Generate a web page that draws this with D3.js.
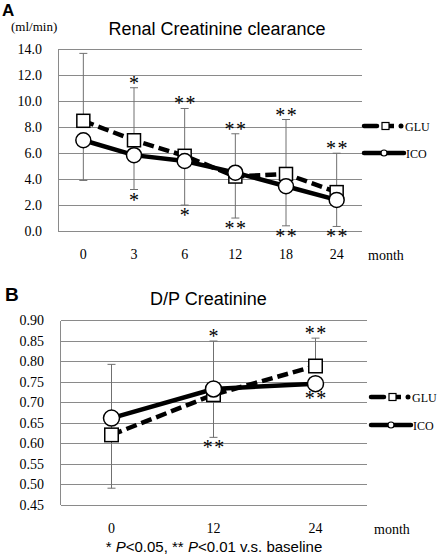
<!DOCTYPE html>
<html><head><meta charset="utf-8">
<script src="https://cdn.jsdelivr.net/npm/d3@7/dist/d3.min.js"></script>
<style>body{margin:0;background:#fff}svg{display:block}</style>
</head><body>
<svg id="c" width="437" height="556"></svg>
<script>
// ---- Panel A data ----
const monthsA = ["0","3","6","12","18","24"];
const gluA = [8.5, 7.0, 5.8, 4.2, 4.4, 3.0];
const icoA = [7.0, 5.85, 5.4, 4.5, 3.45, 2.4];
const gluAUpper = [13.7, 11.05, 9.45, 7.5, 8.6, 6.0];
const icoALower = [3.9, 3.2, 2.0, 1.0, 0.4, 0.35];
const gluASig = ["", "*", "**", "**", "**", "**"];
const icoASig = ["", "*", "*", "**", "**", "**"];
const yTicksA = [0, 2, 4, 6, 8, 10, 12, 14];
// ---- Panel B data ----
const monthsB = ["0","12","24"];
const gluB = [0.621, 0.719, 0.789];
const icoB = [0.662, 0.733, 0.746];
const gluBUpper = [0.793, 0.85, 0.857];
const icoBLower = [0.491, 0.615, 0.735];
const gluBSig = ["", "*", "**"];
const icoBSig = ["", "**", "**"];
const yTicksB = [0.45, 0.50, 0.55, 0.60, 0.65, 0.70, 0.75, 0.80, 0.85, 0.90];

const svg = d3.select("#c");
const SERIF = "'Liberation Serif', 'DejaVu Serif', serif";
const SANS = "Arial, 'Liberation Sans', sans-serif";
const GRID = "#8a8a8a", EBAR = "#707070";

function starText(g, x, yc, s) {
  g.append("text").attr("x", x + 0.75).attr("y", yc + 9.5)
    .attr("text-anchor", "middle").attr("fill", "#000")
    .attr("font-family", SERIF).attr("font-size", 20).attr("letter-spacing", 1.5)
    .text(s);
}

function panel(o) {
  const g = svg.append("g");
  const x = d3.scaleBand().domain(o.cats).range([o.left, o.right]);
  const cx = c => x(c) + x.bandwidth() / 2;
  const y = d3.scaleLinear().domain(o.domain).range([o.bottom, o.top]);

  // grid
  g.append("g").selectAll("line").data(o.ticks).join("line")
    .attr("x1", o.left).attr("x2", o.right)
    .attr("y1", d => y(d)).attr("y2", d => y(d))
    .attr("stroke", GRID).attr("stroke-width", 1).attr("shape-rendering", "crispEdges");
  g.append("line").attr("x1", o.left).attr("x2", o.left)
    .attr("y1", y(o.domain[0])).attr("y2", y(o.domain[1]))
    .attr("stroke", GRID).attr("shape-rendering", "crispEdges");

  // y axis labels via d3 axis
  const ya = g.append("g").attr("transform", `translate(${o.left},0)`)
    .call(d3.axisLeft(y).tickValues(o.ticks).tickFormat(d3.format(o.fmt)).tickSize(0).tickPadding(o.left - o.ylabX));
  ya.select(".domain").remove();
  ya.selectAll("text").attr("font-family", SERIF).attr("font-size", 14).attr("fill", "#000");

  // x axis labels
  const xa = g.append("g").attr("transform", `translate(0,${o.bottom})`)
    .call(d3.axisBottom(x).tickSize(0).tickPadding(o.xlabPad));
  xa.select(".domain").remove();
  xa.selectAll("text").attr("font-family", SERIF).attr("font-size", 14).attr("fill", "#000");
  g.append("text").attr("x", o.monthX).attr("y", o.bottom + o.xlabPad + 11)
    .attr("font-family", SERIF).attr("font-size", 14).text("month");

  // error bars
  const eb = g.append("g").attr("stroke", EBAR).attr("stroke-width", 1);
  o.cats.forEach((c, i) => {
    const xc = cx(c);
    eb.append("line").attr("x1", xc).attr("x2", xc).attr("y1", y(o.glu[i])).attr("y2", y(o.up[i]));
    eb.append("line").attr("x1", xc - 4).attr("x2", xc + 4).attr("y1", y(o.up[i])).attr("y2", y(o.up[i]));
    eb.append("line").attr("x1", xc).attr("x2", xc).attr("y1", y(o.ico[i])).attr("y2", y(o.lo[i]));
    eb.append("line").attr("x1", xc - 4).attr("x2", xc + 4).attr("y1", y(o.lo[i])).attr("y2", y(o.lo[i]));
  });

  // significance stars
  o.cats.forEach((c, i) => {
    const xc = cx(c);
    if (o.gsig[i]) starText(g, xc, y(o.up[i]) - 7.5, o.gsig[i]);
    if (o.isig[i]) starText(g, xc, y(o.lo[i]) + 7.5, o.isig[i]);
  });

  // lines
  const line = d3.line().x((d, i) => cx(o.cats[i])).y(d => y(d));
  g.append("path").datum(o.glu).attr("d", line).attr("fill", "none")
    .attr("stroke", "#000").attr("stroke-width", 4.5).attr("stroke-dasharray", "11,5");
  g.append("path").datum(o.ico).attr("d", line).attr("fill", "none")
    .attr("stroke", "#000").attr("stroke-width", 4.5);

  // markers
  const s = o.sq;
  g.append("g").selectAll("rect").data(o.glu).join("rect")
    .attr("x", (d, i) => cx(o.cats[i]) - s / 2).attr("y", d => y(d) - s / 2)
    .attr("width", s).attr("height", s).attr("fill", "#fff").attr("stroke", "#000").attr("stroke-width", 1.5);
  g.append("g").selectAll("circle").data(o.ico).join("circle")
    .attr("cx", (d, i) => cx(o.cats[i])).attr("cy", d => y(d)).attr("r", o.r)
    .attr("fill", "#fff").attr("stroke", "#000").attr("stroke-width", 1.5);

  // legend
  const L = o.leg;
  const lg = g.append("g");
  lg.append("line").attr("x1", L.x).attr("x2", L.x + 13).attr("y1", L.y1).attr("y2", L.y1)
    .attr("stroke", "#000").attr("stroke-width", 4.5).attr("stroke-linecap", "round");
  lg.append("line").attr("x1", L.x + 22).attr("x2", L.x + 30).attr("y1", L.y1).attr("y2", L.y1)
    .attr("stroke", "#000").attr("stroke-width", 4.5);
  lg.append("rect").attr("x", L.x + 18).attr("y", L.y1 - 3.5).attr("width", 7).attr("height", 7)
    .attr("fill", "#fff").attr("stroke", "#000").attr("stroke-width", 1.2);
  lg.append("circle").attr("cx", L.x + 37).attr("cy", L.y1).attr("r", 2.5).attr("fill", "#000");
  lg.append("text").attr("x", L.x + 41).attr("y", L.y1 + 4.5).attr("font-family", SERIF).attr("font-size", 12).text("GLU");
  lg.append("line").attr("x1", L.x).attr("x2", L.x + 40).attr("y1", L.y2).attr("y2", L.y2)
    .attr("stroke", "#000").attr("stroke-width", 4.5).attr("stroke-linecap", "round");
  lg.append("circle").attr("cx", L.x + 20).attr("cy", L.y2).attr("r", 3).attr("fill", "#fff").attr("stroke", "#000").attr("stroke-width", 1.2);
  lg.append("text").attr("x", L.x + 42).attr("y", L.y2 + 4.5).attr("font-family", SERIF).attr("font-size", 12).text("ICO");
}

// Panel A
svg.append("text").attr("x", 2).attr("y", 16).attr("font-family", SANS).attr("font-weight", "bold").attr("font-size", 17).text("A");
svg.append("text").attr("x", 11).attr("y", 31).attr("font-family", SERIF).attr("font-size", 13).text("(ml/min)");
svg.append("text").attr("x", 217).attr("y", 35).attr("text-anchor", "middle").attr("font-family", SANS).attr("font-size", 18).text("Renal Creatinine clearance");
panel({cats: monthsA, domain: [0, 14], ticks: yTicksA, fmt: ".1f",
  left: 58, right: 362, top: 49.5, bottom: 231, ylabX: 42, xlabPad: 18, monthX: 368,
  glu: gluA, ico: icoA, up: gluAUpper, lo: icoALower, gsig: gluASig, isig: icoASig,
  sq: 13, r: 7.5, leg: {x: 364, y1: 126, y2: 153}});

// Panel B
svg.append("text").attr("x", 5).attr("y", 301).attr("font-family", SANS).attr("font-weight", "bold").attr("font-size", 19).text("B");
svg.append("text").attr("x", 150).attr("y", 305).attr("font-family", SANS).attr("font-size", 18).text("D/P Creatinine");
panel({cats: monthsB, domain: [0.45, 0.90], ticks: yTicksB, fmt: ".2f",
  left: 60.5, right: 366.5, top: 320.5, bottom: 505, ylabX: 44, xlabPad: 18, monthX: 374,
  glu: gluB, ico: icoB, up: gluBUpper, lo: icoBLower, gsig: gluBSig, isig: icoBSig,
  sq: 13.5, r: 8, leg: {x: 371, y1: 397, y2: 425}});

// footnote
const fn = svg.append("text").attr("x", 214).attr("y", 552).attr("text-anchor", "middle")
  .attr("font-family", SANS).attr("font-size", 15);
fn.append("tspan").text("* ");
fn.append("tspan").attr("font-style", "italic").text("P");
fn.append("tspan").text("<0.05, ** ");
fn.append("tspan").attr("font-style", "italic").text("P");
fn.append("tspan").text("<0.01 v.s. baseline");
</script>
</body></html>
